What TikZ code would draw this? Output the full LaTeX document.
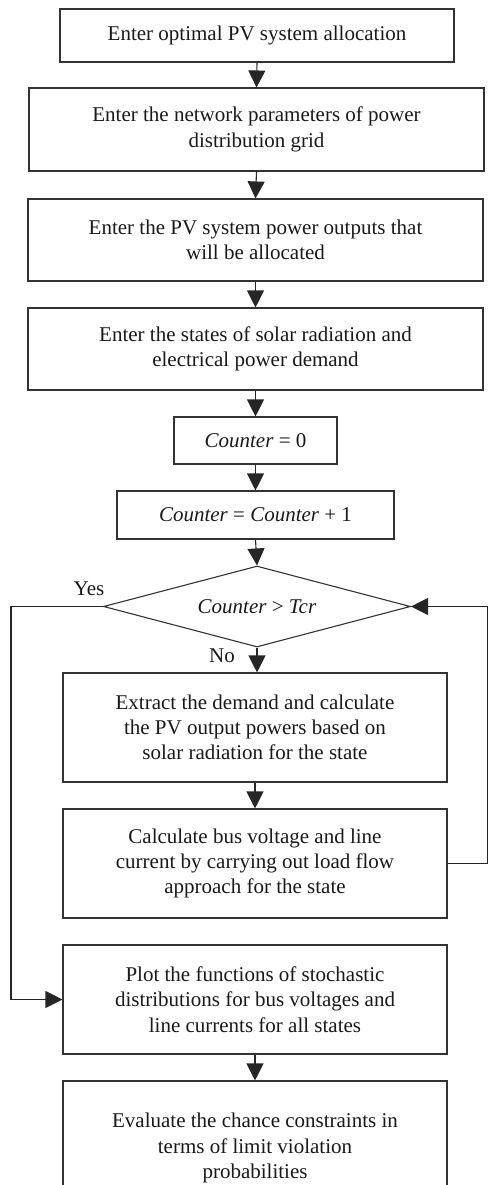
\documentclass[tikz,border=0pt]{standalone}
\usepackage{fontspec}
\setmainfont{Liberation Serif}
\usetikzlibrary{shapes.geometric,arrows.meta}

\begin{document}
\begin{tikzpicture}[x=1pt,y=-1pt,
  every node/.style={font=\fontsize{21}{25.3}\selectfont, text=black!90},
  box/.style={draw=black!80, line width=1.1pt, rectangle, inner sep=0pt, align=center},
  decision/.style={draw=black!80, line width=1.1pt, diamond, aspect=3.8, inner sep=0pt,
                   minimum width=307pt, minimum height=81pt},
  flow/.style={draw=black!85, line width=1.1pt, -{Triangle[length=17pt,width=17pt]}},
  tag/.style={inner sep=0pt}]

  % page frame
  \useasboundingbox (0,0) rectangle (488,1185);

  % input steps
  \node[box, minimum width=394pt, minimum height=53pt] (b1) at (257,35.5)
    {Enter optimal PV system allocation};
  \node[box, minimum width=455pt, minimum height=83pt] (b2) at (256.5,129.5)
    {Enter the network parameters of power\\distribution grid};
  \node[box, minimum width=455pt, minimum height=82pt] (b3) at (255.5,240)
    {Enter the PV system power outputs that\\will be allocated};
  \node[box, minimum width=455pt, minimum height=82pt] (b4) at (255.5,349)
    {Enter the states of solar radiation and\\electrical power demand};

  % counter handling
  \node[box, minimum width=163pt, minimum height=47pt] (c0) at (255.5,440.5)
    {\textit{Counter} = 0};
  \node[box, minimum width=277pt, minimum height=48pt] (c1) at (255.5,515)
    {\textit{Counter} = \textit{Counter} + 1};
  \node[decision] (dia) at (257,606.5) {\textit{Counter} > \textit{Tcr}};

  % per-state computation
  \node[box, minimum width=384pt, minimum height=109pt] (b7) at (255,727.5)
    {Extract the demand and calculate\\the PV output powers based on\\solar radiation for the state};
  \node[box, minimum width=384pt, minimum height=109pt] (b8) at (255,863.5)
    {Calculate bus voltage and line\\current by carrying out load flow\\approach for the state};

  % results
  \node[box, minimum width=384pt, minimum height=109pt] (b9) at (255,999.5)
    {Plot the functions of stochastic\\distributions for bus voltages and\\line currents for all states};
  \node[box, minimum width=384pt, minimum height=134pt] (b10) at (255,1148)
    {Evaluate the chance constraints in\\terms of limit violation\\probabilities};

  % branch labels
  \node[tag] (yes) at (89,589) {Yes};
  \node[tag] (no) at (222,656) {No};

  % routing points of the two side lines
  \coordinate (yesbend) at (11,606.5);
  \coordinate (loopr) at (487.4,864);

  % main flow
  \draw[flow] (b1.south) -- (b2.north);
  \draw[flow] (b2.south) -- (b3.north);
  \draw[flow] (b3.south) -- (b4.north);
  \draw[flow] (b4.south) -- (c0.north);
  \draw[flow] (c0.south) -- (c1.north);
  \draw[flow] (c1.south) -- (dia.north);
  \draw[flow] (dia.south) -- (dia.south |- b7.north);
  \draw[flow] (b7.south) -- (b8.north);
  \draw[flow] (b9.south) -- (b10.north);

  % Yes branch to the plotting step
  \draw[flow] (dia.west) -- (yesbend) |- (b9.west);
  % loop back to the counter test
  \draw[flow] (b8.east) -- (b8.east -| loopr) |- (dia.east);
\end{tikzpicture}
\end{document}
